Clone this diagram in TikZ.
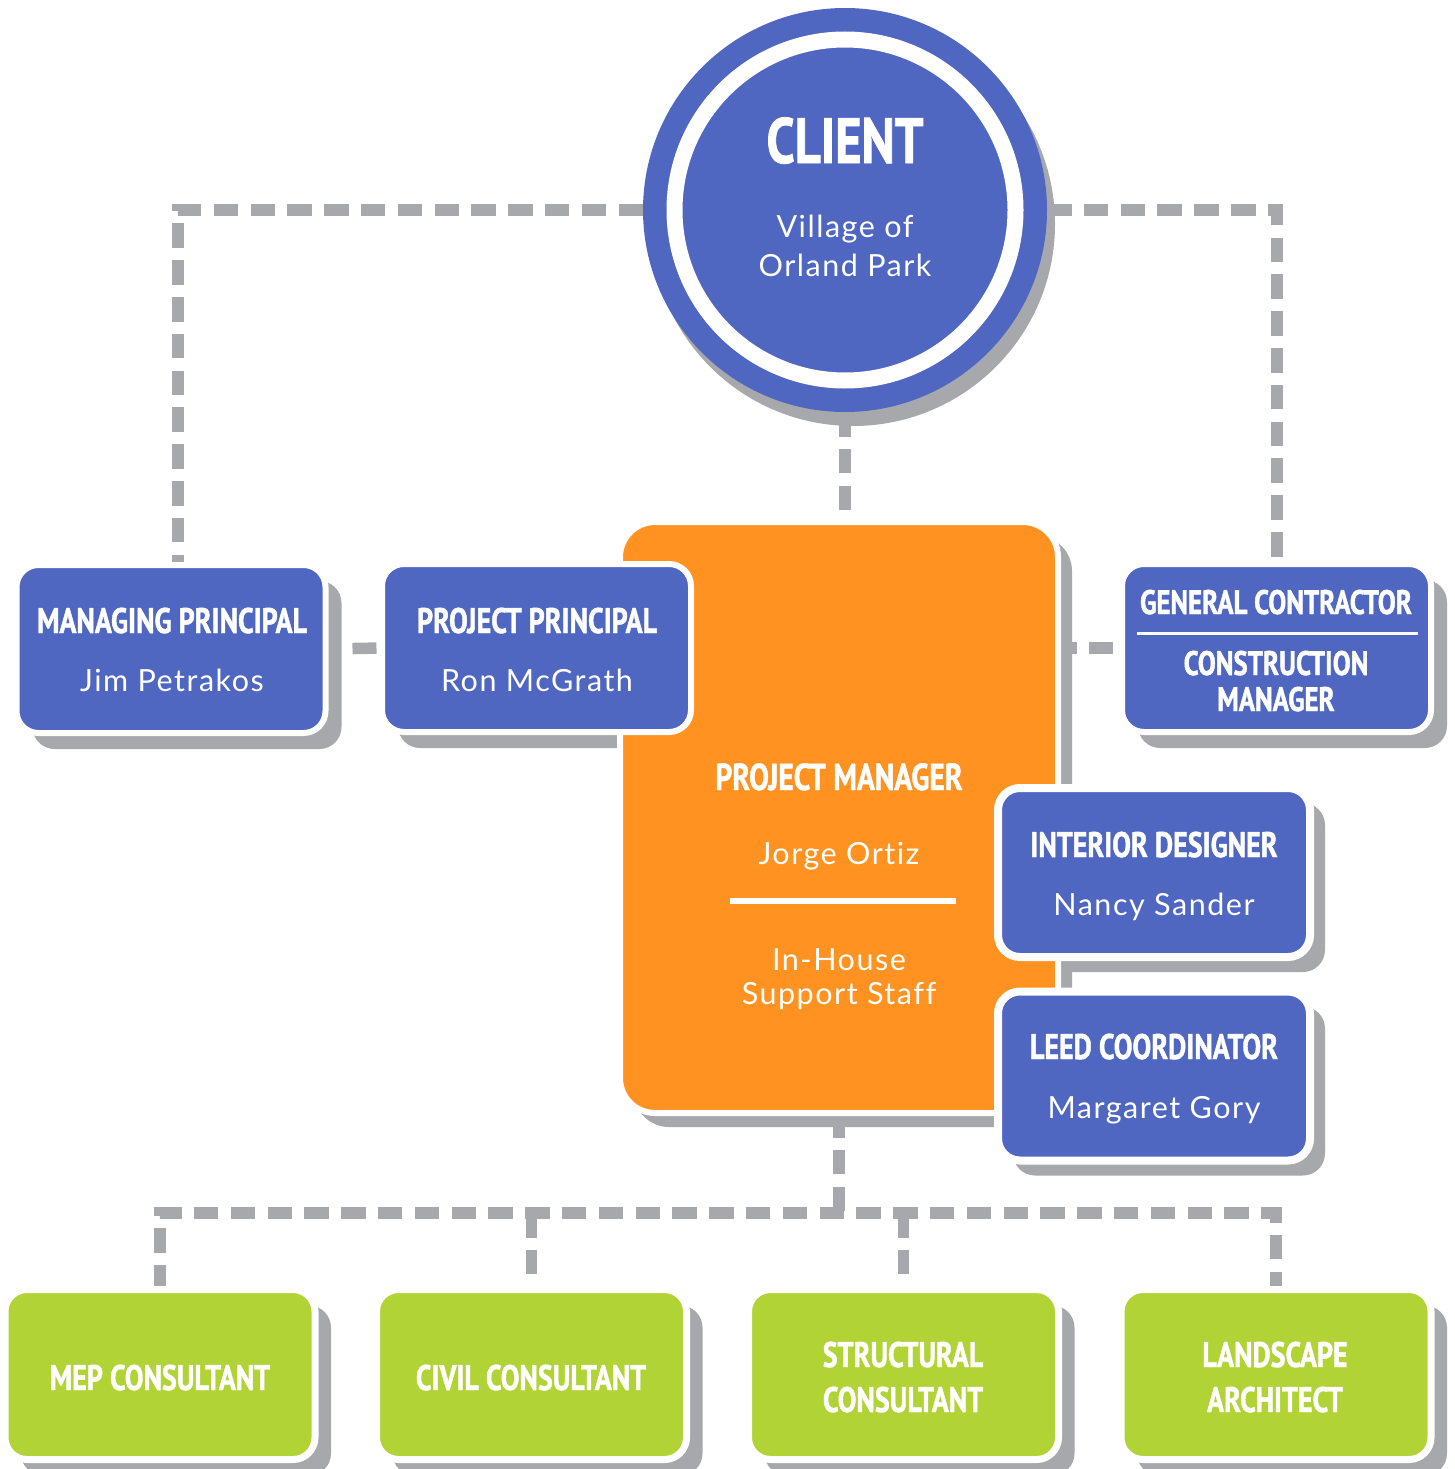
\documentclass[tikz,border=0pt]{standalone}
\usepackage{fontspec}
\usetikzlibrary{calc}
\newfontfamily\hdfont[FakeStretch=0.79,FakeBold=1.2]{PT Sans}
\newfontfamily\bdfont[LetterSpace=5,Ligatures=NoCommon]{Lato}
\definecolor{cBlue}{HTML}{5067C1}
\definecolor{cOrange}{HTML}{FF9220}
\definecolor{cGreen}{HTML}{B1D336}
\definecolor{cGray}{HTML}{A7A8AB}
\pgfdeclarelayer{bg}
\pgfsetlayers{bg,main}
\tikzset{
  hd/.style={text=white, font=\hdfont\bfseries\fontsize{35.5}{36}\selectfont, anchor=base, inner sep=0pt, outer sep=0pt},
  bd/.style={text=white, font=\bdfont\fontsize{30.5}{31}\selectfont, anchor=base, inner sep=0pt, outer sep=0pt},
  box/.style={rectangle, rounded corners=22pt, draw=white, line width=6pt, inner sep=0pt, outer sep=0pt, minimum width=309pt, minimum height=168pt},
  bluebox/.style={box, fill=cBlue},
  greenbox/.style={box, fill=cGreen, line width=7pt, minimum height=170pt, minimum width=310pt},
  conn/.style={draw=cGray, line width=11.5pt, dash pattern=on 24.5pt off 12.3pt},
  shadowfill/.style={fill=cGray, draw=none}
}
\newcommand\boxshadow[3]{%
  \fill[shadowfill, rounded corners=#3] ($(#1.north west)+(#2,#2)$) rectangle ($(#1.south east)+(#2,#2)$);}
\begin{document}
\begin{tikzpicture}[x=1pt,y=-1pt]
\useasboundingbox (0,0) rectangle (1455,1469);
% ---------- client
\node[circle, fill=cBlue, minimum size=404pt, inner sep=0pt, outer sep=0pt] (client) at (845,210) {};
\draw[white, line width=16pt] (client.center) circle[radius=170.5];
\node[hd, font=\hdfont\bfseries\fontsize{64}{64}\selectfont] (clientT) at (845,163) {CLIENT};
\node[bd] (clientA) at (845,237) {Village of};
\node[bd] (clientB) at (845,276) {Orland Park};
% ---------- boxes
\node[bluebox] (mp) at (171,649) {};
\node[bluebox] (gc) at (1276.5,648) {};
\node[box, fill=cOrange, rounded corners=35pt, minimum width=438pt, minimum height=591pt] (pm) at (839,817.5) {};
\node[bluebox] (pp) at (536.5,648) {};
\node[bluebox, line width=8pt, minimum width=312pt, minimum height=169pt] (id) at (1154,872.5) {};
\node[bluebox, line width=8pt, minimum width=312pt, minimum height=169pt] (leed) at (1154,1076) {};
\node[greenbox] (mep) at (160,1374.5) {};
\node[greenbox] (civil) at (531.5,1374.5) {};
\node[greenbox] (struct) at (903.5,1374.5) {};
\node[greenbox] (land) at (1276,1374.5) {};
% ---------- texts
\node[hd] (mpT) at (172,633) {MANAGING PRINCIPAL};
\node[bd] (mpN) at (172,691) {Jim Petrakos};
\node[hd] (ppT) at (537,633) {PROJECT PRINCIPAL};
\node[bd] (ppN) at (537,691) {Ron McGrath};
\node[hd, font=\hdfont\bfseries\fontsize{34}{34}\selectfont] (gcT) at (1276,614) {GENERAL CONTRACTOR};
\draw[white, line width=3pt] (1137,633) -- (1418,633);
\node[hd, font=\hdfont\bfseries\fontsize{34}{34}\selectfont] (gcA) at (1276,675) {CONSTRUCTION};
\node[hd, font=\hdfont\bfseries\fontsize{34}{34}\selectfont] (gcB) at (1276,711) {MANAGER};
\node[hd, font=\hdfont\bfseries\fontsize{37.5}{38}\selectfont] (pmT) at (839,790) {PROJECT MANAGER};
\node[bd] (pmN) at (839,864) {Jorge Ortiz};
\draw[white, line width=6pt] (730,901) -- (956,901);
\node[bd] (pmA) at (839,970) {In-House};
\node[bd] (pmB) at (839,1004) {Support Staff};
\node[hd] (idT) at (1154,857) {INTERIOR DESIGNER};
\node[bd] (idN) at (1154,915) {Nancy Sander};
\node[hd] (leedT) at (1154,1059) {LEED COORDINATOR};
\node[bd] (leedN) at (1154,1118) {Margaret Gory};
\node[hd] (mepT) at (160,1390) {MEP CONSULTANT};
\node[hd] (civilT) at (531,1390) {CIVIL CONSULTANT};
\node[hd] (structA) at (903,1367) {STRUCTURAL};
\node[hd] (structB) at (903,1412) {CONSULTANT};
\node[hd] (landA) at (1275,1367) {LANDSCAPE};
\node[hd] (landB) at (1275,1412) {ARCHITECT};
% ---------- background: connectors and shadows
\begin{pgfonlayer}{bg}
\coordinate (tl) at (178,210);
\coordinate (tr) at (1277,210);
\coordinate (bus) at (0,1213);
\draw[conn] (client.west) -- (tl) -- (tl |- mp.north);
\draw[conn] (client.east) -- (tr) -- (tr |- gc.north);
\draw[conn] (client.south) -- (client.south |- pm.north);
\draw[conn, dash pattern=on 0pt off 27pt on 24pt off 100pt] (mp.east) -- (pp.west);
\draw[conn, dash phase=6pt] (gc.west -| pm.east) -- (gc.west);
\draw[conn] (mep.north) -- (mep.north |- bus) -- (land.north |- bus) -- (land.north);
\draw[conn] (civil.north |- bus) -- (civil.north);
\draw[conn] (struct.north |- bus) -- (struct.north);
\draw[conn] (pm.south) -- (pm.south |- bus);
\fill[shadowfill] ($(client.center)+(8,14)$) circle[radius=202];
\boxshadow{mp}{16}{22pt}
\boxshadow{pp}{16}{22pt}
\boxshadow{gc}{16}{22pt}
\boxshadow{pm}{14}{35pt}
\boxshadow{id}{15}{22pt}
\boxshadow{leed}{15}{22pt}
\boxshadow{mep}{16}{22pt}
\boxshadow{civil}{16}{22pt}
\boxshadow{struct}{16}{22pt}
\boxshadow{land}{16}{22pt}
\end{pgfonlayer}
\end{tikzpicture}
\end{document}
